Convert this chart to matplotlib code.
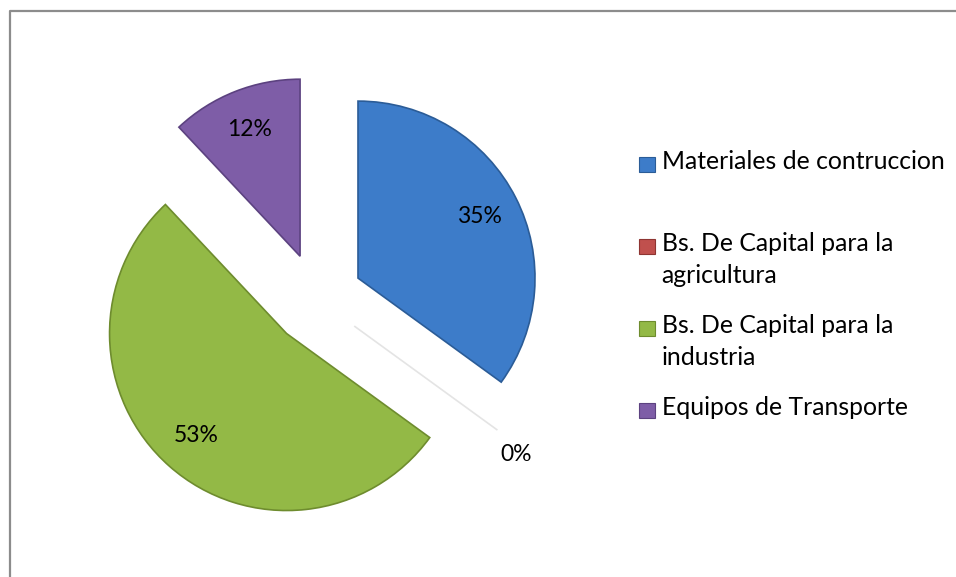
import numpy as np
import matplotlib.pyplot as plt
from matplotlib.patches import Rectangle
from matplotlib.legend_handler import HandlerPatch
from matplotlib.lines import Line2D

plt.rcParams['font.family'] = ['Lato', 'DejaVu Sans']

# data
categories = ["Materiales de contruccion", "Bs. De Capital para la\nagricultura",
              "Bs. De Capital para la\nindustria", "Equipos de Transporte"]
shares = [35, 0, 53, 12]
colors = ['#3D7CC9', '#C0504D', '#93B946', '#7E5DA7']
edges = ['#2B5C97', '#e4e4e4', '#6E8C2E', '#5C4280']

W, H = 956, 577
cx, cy, rad = 317, 299, 177   # pie centre / radius in pixels

fig = plt.figure(figsize=(W / 100, H / 100), dpi=100)
ax = fig.add_axes([0, 0, 1, 1])

wedges, texts, autotexts = ax.pie(shares, explode=[0.26] * 4, startangle=90, counterclock=False,
                                  colors=colors, autopct='%1.0f%%', pctdistance=0.77,
                                  wedgeprops=dict(linewidth=1.2),
                                  textprops=dict(fontsize=16.5, color='black'))
for w, ec in zip(wedges, edges):
  w.set_edgecolor(ec)

# the 0% label sits outside its (empty) wedge, a little below it
w0 = wedges[1]
mid = np.deg2rad((w0.theta1 + w0.theta2) / 2 - 2.5)
autotexts[1].set_position((w0.center[0] + 1.17 * np.cos(mid), w0.center[1] + 1.17 * np.sin(mid)))

ax.set_aspect('auto')
ax.set_xlim(-cx / rad, (W - cx) / rad)
ax.set_ylim(-(H - cy) / rad, cy / rad)
ax.axis('off')

# legend: square marker aligned with first line of each entry
def square(legend, orig_handle, xdescent, ydescent, width, height, fontsize):
  s = 11.2
  yc = height / 2 - ydescent + 0.57 * fontsize
  return Rectangle((0, yc - s / 2), s, s)

labels = [c if "\n" in c else c + "\n" for c in categories]
leg = fig.legend(wedges, labels, loc='upper left', bbox_to_anchor=(639 / W, 1 - 150 / H),
                 frameon=False, fontsize=17.8, borderpad=0, borderaxespad=0,
                 handlelength=0.62, handletextpad=0.3, labelspacing=1.07,
                 handler_map={w: HandlerPatch(patch_func=square) for w in wedges})
for t in leg.get_texts():
  t.set_linespacing(1.5)
for h in leg.legend_handles:
  h.set_linewidth(0.8)
leg.legend_handles[1].set_edgecolor('#8E3532')

# chart border (only top and left edges visible)
fig.add_artist(Line2D([9.5 / W, 9.5 / W, 1], [0, 1 - 10.5 / H, 1 - 10.5 / H],
                      transform=fig.transFigure, color='#8c8c8c', linewidth=1.6))

fig.savefig('out.png', dpi=100)
